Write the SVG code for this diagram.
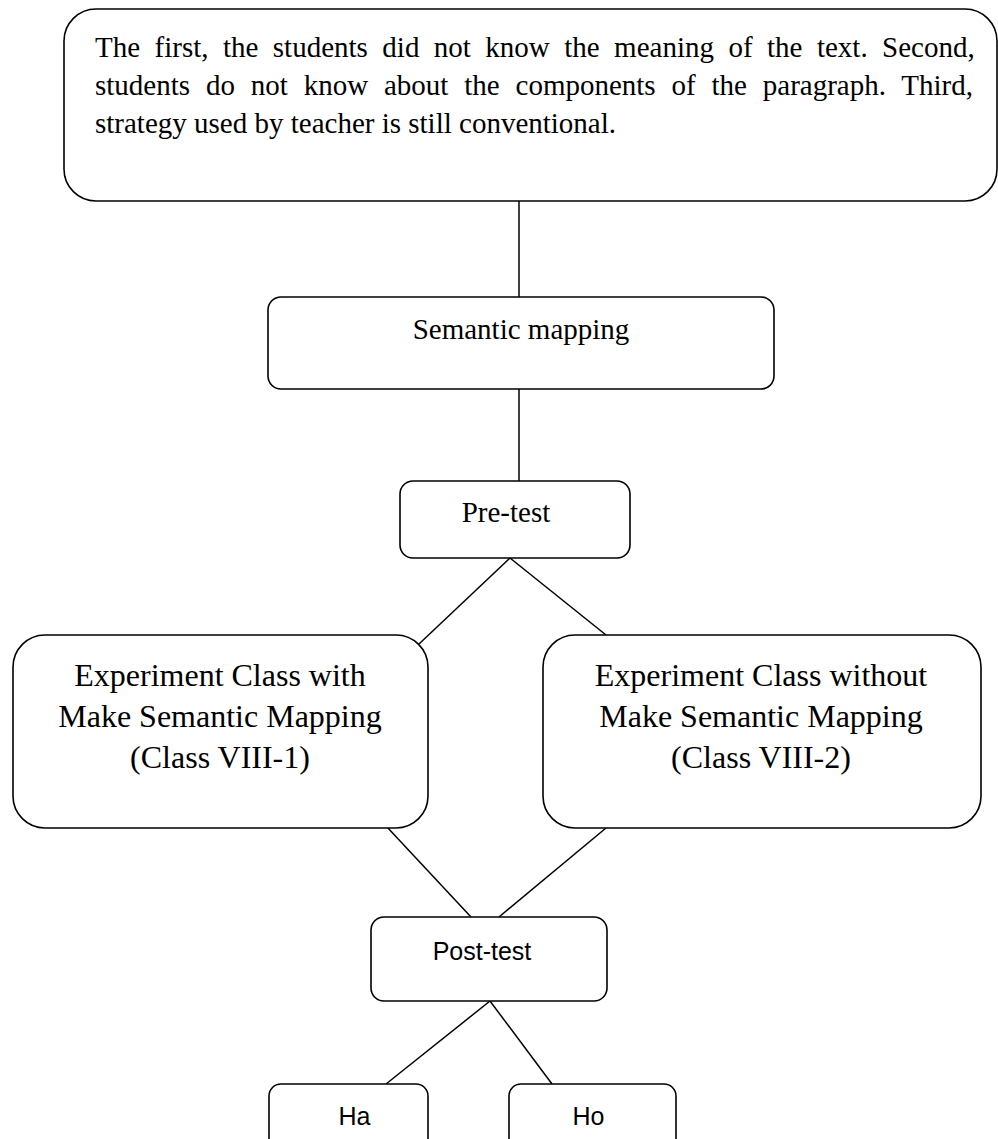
<svg xmlns="http://www.w3.org/2000/svg" width="998" height="1139" viewBox="0 0 998 1139">
<style>
.box{fill:#fff;stroke:#000;stroke-width:1.6}
.conn line{stroke:#000;stroke-width:1.5}
.serif{font-family:"Liberation Serif","Times New Roman",serif;fill:#000}
.sans{font-family:"Liberation Sans",Arial,sans-serif;fill:#000}
.t29{font-size:29px}
.t32{font-size:32px}
.t25{font-size:25px}
</style>
<rect width="998" height="1139" fill="#fff"/>
<g id="connectors" class="conn">
<line x1="519" y1="201" x2="519" y2="297"/>
<line x1="519" y1="389" x2="519" y2="481"/>
<line x1="510" y1="558" x2="419" y2="644"/>
<line x1="510" y1="558" x2="606" y2="635"/>
<line x1="387" y1="827" x2="471" y2="917"/>
<line x1="606" y1="828" x2="499" y2="917"/>
<line x1="490" y1="1001" x2="386" y2="1084"/>
<line x1="484" y1="993" x2="552" y2="1084"/>
</g>
<g id="problem">
<rect class="box" x="64" y="9" width="933" height="192" rx="32"/>
<text class="serif t29" x="95" y="57" word-spacing="7.2">The first, the students did not know the meaning of the text. Second,</text>
<text class="serif t29" x="95" y="95" word-spacing="8.6">students do not know about the components of the paragraph. Third,</text>
<text class="serif t29" x="95" y="133">strategy used by teacher is still conventional.</text>
</g>
<g id="semantic-mapping">
<rect class="box" x="268" y="297" width="506" height="92" rx="13"/>
<text class="serif t29" x="521" y="339" text-anchor="middle">Semantic mapping</text>
</g>
<g id="pre-test">
<rect class="box" x="400" y="481" width="230" height="77" rx="13"/>
<text class="serif t29" x="506" y="522" text-anchor="middle">Pre-test</text>
</g>
<g id="class-with">
<rect class="box" x="13" y="635" width="415" height="193" rx="32"/>
<text class="serif t32" text-anchor="middle"><tspan x="220" y="686">Experiment Class with</tspan><tspan x="220" y="727">Make Semantic Mapping</tspan><tspan x="220" y="768">(Class VIII-1)</tspan></text>
</g>
<g id="class-without">
<rect class="box" x="543" y="635" width="438" height="193" rx="32"/>
<text class="serif t32" text-anchor="middle"><tspan x="761" y="686">Experiment Class without</tspan><tspan x="761" y="727">Make Semantic Mapping</tspan><tspan x="761" y="768">(Class VIII-2)</tspan></text>
</g>
<g id="post-test">
<rect class="box" x="371" y="917" width="236" height="84" rx="13"/>
<text class="sans t25" x="482" y="960" text-anchor="middle">Post-test</text>
</g>
<g id="ha">
<rect class="box" x="269" y="1084" width="159" height="70" rx="12"/>
<text class="sans t25" x="354.5" y="1125" text-anchor="middle">Ha</text>
</g>
<g id="ho">
<rect class="box" x="509" y="1084" width="167" height="70" rx="12"/>
<text class="sans t25" x="588.5" y="1125" text-anchor="middle">Ho</text>
</g>
</svg>
